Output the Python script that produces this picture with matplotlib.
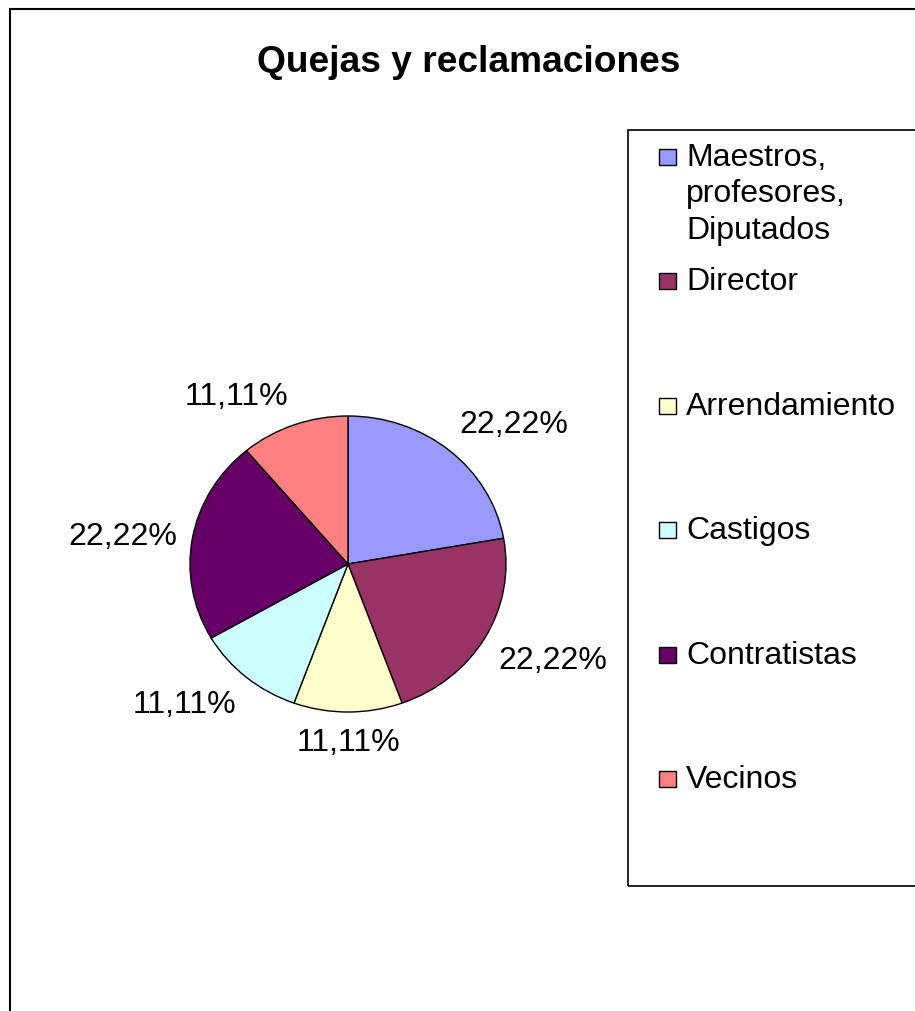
import numpy as np
import matplotlib
matplotlib.use("Agg")
import matplotlib.pyplot as plt
from matplotlib.patches import Rectangle

plt.rcParams['font.family'] = ['Liberation Sans', 'DejaVu Sans']

title = "Quejas y reclamaciones"
categories = ["Maestros,\nprofesores,\nDiputados", "Director", "Arrendamiento",
              "Castigos", "Contratistas", "Vecinos"]
values = [22.22, 22.22, 11.11, 11.11, 22.22, 11.11]
labels = ["22,22%", "22,22%", "11,11%", "11,11%", "22,22%", "11,11%"]
colors = ["#9999FF", "#993366", "#FFFFCC", "#CCFFFF", "#660066", "#FF8080"]

W, H = 915, 1012
fig = plt.figure(figsize=(W / 100, H / 100), dpi=100)

# outer chart frame
fig.patches.append(Rectangle((10 / W, -0.05), 1.2, (H - 10) / H + 0.05,
                             transform=fig.transFigure, fill=False,
                             edgecolor="black", linewidth=1.5))

fig.text(469 / W, 1 - 63 / H, title, ha="center", va="center",
         fontsize=26.7, fontweight="bold")

# pie axes: center (348,565), rx 158, ry 148 px
cx, cy, rx, ry = 348, 565, 158, 148
L = 1.6
ax = fig.add_axes([(cx - L * rx) / W, (H - cy - L * ry) / H,
                   2 * L * rx / W, 2 * L * ry / H])
wedges, _ = ax.pie(values, colors=colors, startangle=90, counterclock=False,
                   wedgeprops=dict(edgecolor="black", linewidth=1.0))
ax.set_aspect("auto")
ax.set_xlim(-L, L)
ax.set_ylim(-L, L)
ax.axis("off")

for w, lab in zip(wedges, labels):
    ang = np.deg2rad((w.theta1 + w.theta2) / 2)
    c, s = np.cos(ang), np.sin(ang)
    d = 1.1
    ha = "left" if c > 0.1 else ("right" if c < -0.1 else "center")
    va = "bottom" if s > 0.2 else ("top" if s < -0.2 else "center")
    ax.text(d * c, d * s, lab, ha=ha, va=va, fontsize=23)

# legend box
fig.patches.append(Rectangle((628 / W, 1 - 887 / H), 0.5, (887 - 131) / H,
                             transform=fig.transFigure, fill=False,
                             edgecolor="black", linewidth=1.2))
y0, step = 158, 124.4
for i, (cat, col) in enumerate(zip(categories, colors)):
    y = y0 + i * step
    fig.patches.append(Rectangle((659 / W, 1 - (y + 8) / H), 17 / W, 16 / H,
                                 transform=fig.transFigure, facecolor=col,
                                 edgecolor="black", linewidth=1.0))
    fig.text(686 / W, 1 - (y - 15) / H, cat, ha="left", va="top",
             fontsize=23, linespacing=1.28)

fig.savefig("out.png", dpi=100)
